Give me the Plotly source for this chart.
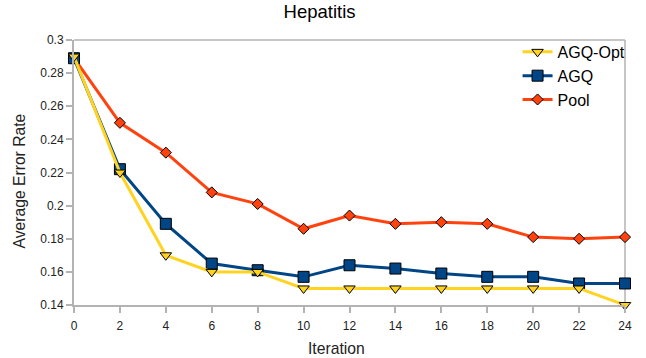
import plotly.graph_objects as go

iterations = [0, 2, 4, 6, 8, 10, 12, 14, 16, 18, 20, 22, 24]
agq_opt = [0.290, 0.220, 0.170, 0.160, 0.160, 0.150, 0.150, 0.150, 0.150, 0.150, 0.150, 0.150, 0.140]
agq = [0.289, 0.222, 0.189, 0.165, 0.161, 0.157, 0.164, 0.162, 0.159, 0.157, 0.157, 0.153, 0.153]
pool = [0.289, 0.250, 0.232, 0.208, 0.201, 0.186, 0.194, 0.189, 0.190, 0.189, 0.181, 0.180, 0.181]

x_ticks = [0, 2, 4, 6, 8, 10, 12, 14, 16, 18, 20, 22, 24]
y_ticks = [0.14, 0.16, 0.18, 0.2, 0.22, 0.24, 0.26, 0.28, 0.3]
y_tick_labels = ["0.14", "0.16", "0.18", "0.2", "0.22", "0.24", "0.26", "0.28", "0.3"]

font = "Liberation Sans, Arial, sans-serif"

fig = go.Figure()
fig.add_trace(go.Scatter(
    x=iterations, y=pool, name="Pool", mode="lines+markers",
    line=dict(color="#FF420E", width=3),
    marker=dict(symbol="diamond", size=8.5, color="#FF420E", line=dict(color="black", width=1)),
    cliponaxis=False))
fig.add_trace(go.Scatter(
    x=iterations, y=agq, name="AGQ", mode="lines+markers",
    line=dict(color="#004586", width=3),
    marker=dict(symbol="square", size=11, color="#004586", line=dict(color="black", width=1)),
    cliponaxis=False))
fig.add_trace(go.Scatter(
    x=iterations, y=agq_opt, name="AGQ-Opt", mode="lines+markers",
    line=dict(color="#FFD320", width=3),
    marker=dict(symbol="triangle-down", size=10, color="#FFD320", line=dict(color="black", width=1)),
    cliponaxis=False))

fig.update_layout(
    width=646, height=358,
    paper_bgcolor="white", plot_bgcolor="white",
    margin=dict(l=74, r=21, t=40, b=53, autoexpand=False),
    font=dict(family=font, size=12, color="#222222"),
    title=dict(text="Hepatitis", x=0.4946, xanchor="center", xref="container",
               y=0.968, yanchor="middle", yref="container",
               font=dict(family=font, size=18.5, color="black")),
    showlegend=True,
    legend=dict(x=0.805, y=1.019, xanchor="left", yanchor="top", traceorder="reversed",
                bgcolor="rgba(0,0,0,0)", font=dict(family=font, size=16, color="black"),
                itemwidth=30),
    xaxis=dict(
        range=[0, 24], tickmode="array", tickvals=x_ticks,
        showgrid=False, zeroline=False, automargin=False,
        showline=True, linecolor="#b3b3b3", linewidth=2,
        ticks="outside", ticklen=6, tickcolor="#b3b3b3", tickwidth=1.5,
        ticklabelstandoff=3,
        tickfont=dict(family=font, size=12, color="#222222"),
    ),
    yaxis=dict(
        range=[0.14, 0.3], tickmode="array", tickvals=y_ticks, ticktext=y_tick_labels,
        showgrid=False, zeroline=False, automargin=False,
        showline=True, linecolor="#b3b3b3", linewidth=2,
        ticks="outside", ticklen=6, tickcolor="#b3b3b3", tickwidth=1.5,
        tickfont=dict(family=font, size=12, color="#222222"),
    ),
)

# axis titles (placed as in the reference, slightly off-centre)
fig.add_annotation(text="Iteration", xref="paper", yref="paper", x=0.4755, y=-0.1623,
                   xanchor="center", yanchor="middle", showarrow=False,
                   font=dict(family=font, size=15.7, color="#222222"))
fig.add_annotation(text="Average Error Rate", xref="paper", yref="paper", x=-0.0998, y=0.466,
                   xanchor="center", yanchor="middle", showarrow=False, textangle=-90,
                   font=dict(family=font, size=15.7, color="#222222"))

# thin frame on top and right
fig.add_shape(type="line", xref="paper", yref="paper", x0=0, x1=1, y0=1, y1=1,
              line=dict(color="#b3b3b3", width=1.5), layer="below")
fig.add_shape(type="line", xref="paper", yref="paper", x0=1, x1=1, y0=0, y1=1,
              line=dict(color="#b3b3b3", width=1.5), layer="below")

fig.write_html("out.html", config={"displayModeBar": False},
               post_script="document.body.style.margin='0';")
